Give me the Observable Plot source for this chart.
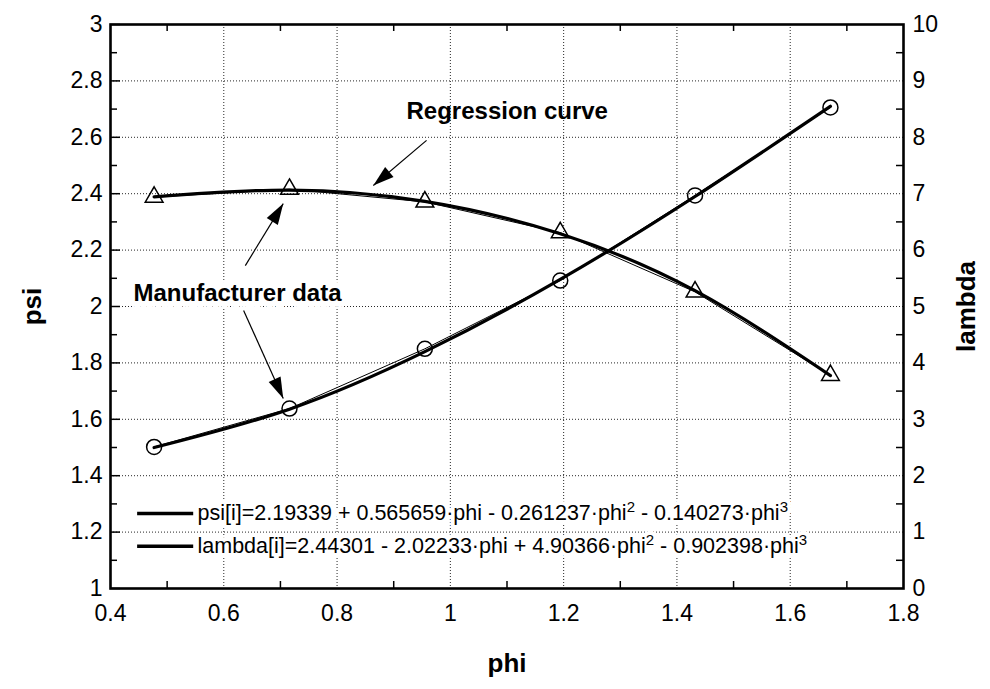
<!DOCTYPE html>
<html>
<head>
<meta charset="utf-8">
<script src="https://cdn.jsdelivr.net/npm/d3@7"></script>
<script src="https://cdn.jsdelivr.net/npm/@observablehq/plot@0.6"></script>
<style>
  html, body { margin: 0; padding: 0; background: #fff; }
  svg { display: block; }
</style>
</head>
<body>
<div id="chart"></div>
<script>
// ---- data ----
const phi = [0.477, 0.716, 0.955, 1.194, 1.432, 1.671];
const psiData = [2.388, 2.416, 2.371, 2.262, 2.052, 1.756];
const lambdaData = [2.51, 3.19, 4.25, 5.46, 6.97, 8.53];
const psiFit = [2.389, 2.413, 2.373, 2.258, 2.056, 1.755];
const lambdaFit = [2.50, 3.18, 4.20, 5.48, 6.95, 8.55];

const xTicks = [0.4, 0.6, 0.8, 1, 1.2, 1.4, 1.6, 1.8];
const xMinor = [0.5, 0.7, 0.9, 1.1, 1.3, 1.5, 1.7];
const psiTicks = [1, 1.2, 1.4, 1.6, 1.8, 2, 2.2, 2.4, 2.6, 2.8, 3];
const psiMinor = [1.1, 1.3, 1.5, 1.7, 1.9, 2.1, 2.3, 2.5, 2.7, 2.9];
const lambdaTicks = [0, 1, 2, 3, 4, 5, 6, 7, 8, 9, 10];

const legendLabels = [
  "psi[i]=2.19339 + 0.565659·phi - 0.261237·phi² - 0.140273·phi³",
  "lambda[i]=2.44301 - 2.02233·phi + 4.90366·phi² - 0.902398·phi³"
];
const annotations = ["Regression curve", "Manufacturer data"];

// ---- layout ----
const W = 990, H = 689;
const mL = 110, mR = 87, mT = 24, mB = 101;
const plotW = W - mL - mR, plotH = H - mT - mB;
const lambdaToPsi = l => 1 + l / 5;

const psiPts = phi.map((p, i) => ({x: p, y: psiData[i]}));
const lamPts = phi.map((p, i) => ({x: p, y: lambdaToPsi(lambdaData[i])}));
const psiFitPts = phi.map((p, i) => ({x: p, y: psiFit[i]}));
const lamFitPts = phi.map((p, i) => ({x: p, y: lambdaToPsi(lambdaFit[i])}));

// annotation arrows (data coordinates)
const arrows = [
  {x1: 0.958, y1: 2.589, x2: 0.864, y2: 2.429},
  {x1: 0.638, y1: 2.145, x2: 0.705, y2: 2.365},
  {x1: 0.635, y1: 1.986, x2: 0.705, y2: 1.674}
];
const kx = plotW / 1.4, ky = plotH / 2;
arrows.forEach(a => {
  const dx = (a.x2 - a.x1) * kx, dy = -(a.y2 - a.y1) * ky;
  a.angle = Math.atan2(dx, -dy) * 180 / Math.PI;
});
const arrowHead = {
  draw(ctx) { ctx.moveTo(0, 0); ctx.lineTo(6.5, 21); ctx.lineTo(-6.5, 21); ctx.closePath(); }
};

const font = "'Liberation Sans', Arial, Helvetica, sans-serif";
const legendY = [1.266, 1.150];

const chart = Plot.plot({
  width: W, height: H,
  marginLeft: mL, marginRight: mR, marginTop: mT, marginBottom: mB,
  style: {fontFamily: font, background: "#fff", color: "#000"},
  x: {domain: [0.4, 1.8], label: null},
  y: {domain: [1, 3], label: null},
  marks: [
    Plot.gridX(xTicks, {stroke: "#000", strokeOpacity: 0.85, strokeWidth: 1, strokeDasharray: "1,2"}),
    Plot.gridY(psiTicks, {stroke: "#000", strokeOpacity: 0.85, strokeWidth: 1, strokeDasharray: "1,2"}),
    // legend (white halo copy, then text)
    Plot.text(legendLabels, {x: 0.5536, y: (d, i) => legendY[i], text: d => d, textAnchor: "start",
      fontSize: 21.5, fill: "#fff", stroke: "#fff", strokeWidth: 8}),
    Plot.text(legendLabels, {x: 0.5536, y: (d, i) => legendY[i], text: d => d, textAnchor: "start",
      fontSize: 21.5, fill: "#000"}),
    Plot.link(legendLabels, {x1: 0.447, x2: 0.546, y1: (d, i) => legendY[i], y2: (d, i) => legendY[i],
      stroke: "#000", strokeWidth: 3.5}),
    // annotation texts
    Plot.text([annotations[0]], {x: 0.9226, y: 2.693, text: d => d, textAnchor: "start", fontSize: 24, fontWeight: "bold", fill: "#000"}),
    Plot.text([annotations[1]], {x: 0.4406, y: 2.048, text: d => d, textAnchor: "start", fontSize: 24, fontWeight: "bold",
      fill: "#000", stroke: "#fff", strokeWidth: 12}),
    // curves
    Plot.line(psiFitPts, {x: "x", y: "y", curve: "natural", stroke: "#000", strokeWidth: 3.2}),
    Plot.line(psiPts, {x: "x", y: "y", stroke: "#000", strokeWidth: 1}),
    Plot.line(lamFitPts, {x: "x", y: "y", curve: "natural", stroke: "#000", strokeWidth: 3.2}),
    Plot.line(lamPts, {x: "x", y: "y", stroke: "#000", strokeWidth: 1}),
    // markers
    Plot.dot(psiPts, {x: "x", y: "y", symbol: "triangle", r: 6.6, stroke: "#000", strokeWidth: 1.5, fill: "none"}),
    Plot.dot(lamPts, {x: "x", y: "y", symbol: "circle", r: 7.5, stroke: "#000", strokeWidth: 1.5, fill: "none"}),
    // arrows
    Plot.link(arrows, {x1: "x1", y1: "y1", x2: "x2", y2: "y2", stroke: "#000", strokeWidth: 1.2}),
    Plot.dot(arrows, {x: "x2", y: "y2", symbol: arrowHead, rotate: "angle", fill: "#000", stroke: "none", r: 5}),
    // ticks (inward)
    Plot.tickX(xMinor, {x: d => d, insetTop: plotH - 7, stroke: "#000", strokeWidth: 1.5}),
    Plot.tickX(xMinor, {x: d => d, insetBottom: plotH - 7, stroke: "#000", strokeWidth: 1.5}),
    Plot.tickY(psiMinor, {y: d => d, insetRight: plotW - 7, stroke: "#000", strokeWidth: 1.5}),
    Plot.tickY(psiTicks, {y: d => d, insetRight: plotW - 10, stroke: "#000", strokeWidth: 1.5}),
    Plot.tickY(psiMinor, {y: d => d, insetLeft: plotW - 7, stroke: "#000", strokeWidth: 1.5}),
    // frame
    Plot.frame({stroke: "#000", strokeWidth: 2.6}),
    // axes
    Plot.axisX(xTicks, {anchor: "bottom", tickSize: 0, tickPadding: 16, fontSize: 23, label: null, tickFormat: d => String(d)}),
    Plot.axisY(psiTicks, {anchor: "left", tickSize: 0, tickPadding: 8, fontSize: 23, label: null, tickFormat: d => String(d)}),
    Plot.axisY(lambdaTicks.map(lambdaToPsi), {anchor: "right", tickSize: 0, tickPadding: 9, fontSize: 23, label: null,
      tickFormat: d => String(Math.round((d - 1) * 5))}),
    // axis titles
    Plot.text(["psi"], {frameAnchor: "left", dx: -78, rotate: -90, textAnchor: "middle", text: d => d, fontSize: 26, fontWeight: "bold", fill: "#000"}),
    Plot.text(["lambda"], {frameAnchor: "right", dx: 63, rotate: -90, textAnchor: "middle", text: d => d, fontSize: 26, fontWeight: "bold", fill: "#000"}),
    Plot.text(["phi"], {frameAnchor: "bottom", dy: 83, textAnchor: "middle", text: d => d, fontSize: 26, fontWeight: "bold", fill: "#000"})
  ]
});

// real superscripts in the legend text
d3.select(chart).selectAll("text").each(function () {
  const t = this.textContent;
  if (!/[²³]/.test(t)) return;
  const el = d3.select(this);
  el.text(null);
  const parts = t.split(/([²³])/);
  let raised = false;
  parts.forEach(p => {
    if (p === "") return;
    if (p === "²" || p === "³") {
      el.append("tspan").attr("dy", -8).style("font-size", "15px").text(p === "²" ? "2" : "3");
      raised = true;
    } else {
      const ts = el.append("tspan").text(p);
      if (raised) { ts.attr("dy", 8); raised = false; }
    }
  });
});

document.getElementById("chart").appendChild(chart);
</script>
</body>
</html>
